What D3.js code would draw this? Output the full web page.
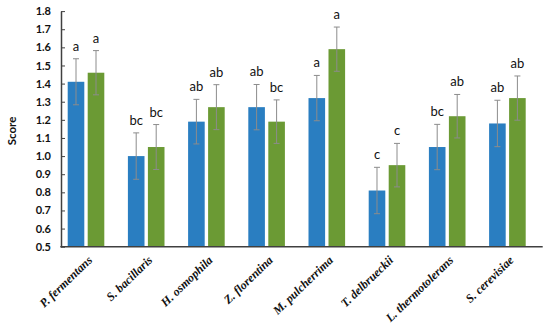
<!DOCTYPE html>
<html>
<head>
<meta charset="utf-8">
<script src="https://cdn.jsdelivr.net/npm/d3@7"></script>
<style>
  body { margin: 0; background: #fff; }
  svg { display: block; }
</style>
</head>
<body>
<svg id="chart"></svg>
<script>
const w = 550, h = 329;

const species = ['P. fermentans', 'S. bacillaris', 'H. osmophila', 'Z. florentina',
                 'M. pulcherrima', 'T. delbrueckii', 'L. thermotolerans', 'S. cerevisiae'];
const blueVals = [1.41, 1.00, 1.19, 1.27, 1.32, 0.81, 1.05, 1.18];
const greenVals = [1.46, 1.05, 1.27, 1.19, 1.59, 0.95, 1.22, 1.32];
const blueErr = [0.127, 0.128, 0.123, 0.125, 0.125, 0.128, 0.125, 0.128];
const greenErr = [0.122, 0.124, 0.124, 0.12, 0.122, 0.12, 0.12, 0.122];
const blueLetters = ['a', 'bc', 'ab', 'ab', 'a', 'c', 'bc', 'ab'];
const greenLetters = ['a', 'bc', 'ab', 'bc', 'a', 'c', 'ab', 'ab'];
const yTicks = [0.5, 0.6, 0.7, 0.8, 0.9, 1.0, 1.1, 1.2, 1.3, 1.4, 1.5, 1.6, 1.7, 1.8];

const colors = {blue: '#2a7ec1', green: '#6b9a34'};

const svg = d3.select('#chart').attr('width', w).attr('height', h);

const y = d3.scaleLinear().domain([0.5, 1.8]).range([246.7, 11.1]);
const x0 = d3.scaleBand().domain(species).range([55.9, 537.5]);
const x1 = d3.scaleBand().domain(['blue', 'green']).range([11.8, 48.4]).paddingInner(0.17);

const rows = species.map((s, i) => ({
  name: s,
  bars: [
    {key: 'blue', v: blueVals[i], e: blueErr[i], l: blueLetters[i]},
    {key: 'green', v: greenVals[i], e: greenErr[i], l: greenLetters[i]}
  ]
}));

/* Bars */
const groups = svg.selectAll('g.grp').data(rows).enter()
  .append('g').attr('class', 'grp')
  .attr('transform', d => `translate(${x0(d.name)},0)`);

groups.selectAll('rect').data(d => d.bars).enter()
  .append('rect')
  .attr('x', d => x1(d.key))
  .attr('y', d => y(d.v))
  .attr('width', x1.bandwidth())
  .attr('height', d => y(0.5) - y(d.v))
  .style('fill', d => colors[d.key]);

/* Error bars */
const eb = groups.selectAll('g.err').data(d => d.bars).enter()
  .append('g').attr('class', 'err')
  .attr('stroke', '#8c8c8c').attr('stroke-width', 1);
const cx = d => x1(d.key) + x1.bandwidth() / 2;
eb.append('line')
  .attr('x1', cx).attr('x2', cx)
  .attr('y1', d => y(d.v + d.e)).attr('y2', d => y(d.v - d.e));
eb.append('line')
  .attr('x1', d => cx(d) - 3).attr('x2', d => cx(d) + 3)
  .attr('y1', d => y(d.v + d.e)).attr('y2', d => y(d.v + d.e));
eb.append('line')
  .attr('x1', d => cx(d) - 3).attr('x2', d => cx(d) + 3)
  .attr('y1', d => y(d.v - d.e)).attr('y2', d => y(d.v - d.e));

/* Letters */
groups.selectAll('text.let').data(d => d.bars).enter()
  .append('text').attr('class', 'let')
  .attr('x', cx)
  .attr('y', d => y(d.v + d.e) - 8)
  .attr('text-anchor', 'middle')
  .style('font-family', 'Lato, "Open Sans", sans-serif')
  .style('font-size', '13px')
  .style('fill', '#111')
  .text(d => d.l);

/* Axes */
const yAxis = d3.axisLeft(y).tickValues(yTicks).tickFormat(d3.format('.1f'))
  .tickSizeInner(-4).tickSizeOuter(0).tickPadding(10);
const ya = svg.append('g').attr('transform', 'translate(61,0)').call(yAxis);
ya.select('.domain').attr('stroke', '#404040').attr('stroke-width', 1.5);
ya.selectAll('.tick line').attr('stroke', '#404040');
ya.selectAll('.tick text')
  .style('font-family', 'Lato, "Open Sans", sans-serif')
  .style('font-weight', 'bold')
  .style('font-size', '11px')
  .style('fill', '#111');

svg.append('line')
  .attr('x1', 60.3).attr('x2', 542.7)
  .attr('y1', y(0.5)).attr('y2', y(0.5))
  .attr('stroke', '#404040').attr('stroke-width', 1.5);

/* Category labels */
svg.selectAll('text.cat').data(species).enter()
  .append('text').attr('class', 'cat')
  .attr('transform', d => `translate(${x0(d) + x0.bandwidth() / 2 + 7},261) rotate(-44)`)
  .attr('text-anchor', 'end')
  .style('font-family', '"Liberation Serif", "Times New Roman", serif')
  .style('font-style', 'italic')
  .style('font-weight', 'bold')
  .style('font-size', '12px')
  .style('fill', '#111')
  .text(d => d);

/* Y title */
svg.append('text')
  .attr('transform', 'translate(16,131) rotate(-90)')
  .attr('text-anchor', 'middle')
  .style('font-family', 'Lato, "Open Sans", sans-serif')
  .style('font-weight', 'bold')
  .style('font-size', '11.5px')
  .style('fill', '#111')
  .text('Score');
</script>
</body>
</html>
